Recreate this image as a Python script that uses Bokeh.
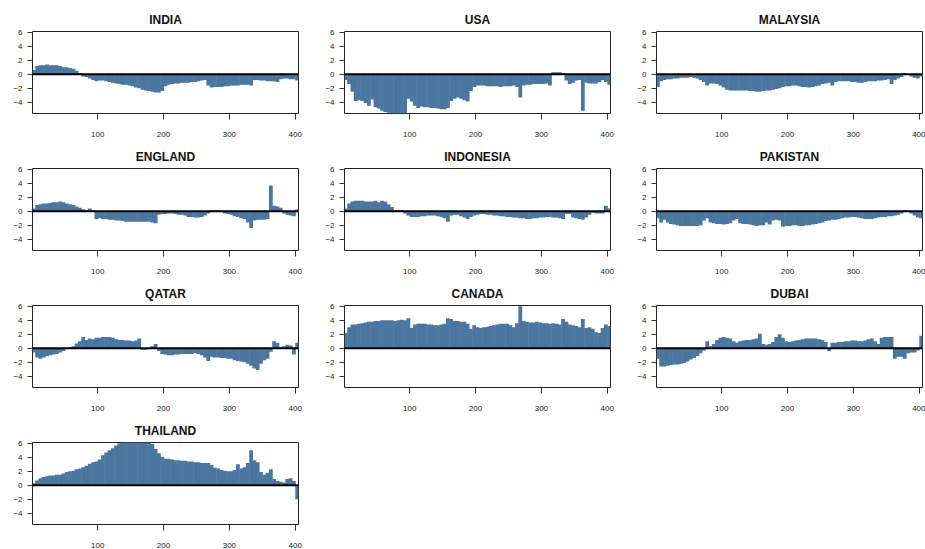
from bokeh.plotting import figure
from bokeh.layouts import gridplot
from bokeh.models import Range1d, FixedTicker, Span
from bokeh.embed import file_html
from bokeh.resources import INLINE

# index positions (one value read every 5 observations)
t = list(range(1, 402, 5))

names = ["INDIA", "USA", "MALAYSIA", "ENGLAND", "INDONESIA", "PAKISTAN",
         "QATAR", "CANADA", "DUBAI", "THAILAND"]

x_ticks = [100, 200, 300, 400]
y_ticks = [-4, -2, 0, 2, 4, 6]

india = [0.6, 1.2, 1.3, 1.3, 1.4, 1.3, 1.3, 1.3, 1.2, 1.0,
         1.0, 0.9, 0.8, 0.5, 0.2, -0.3, -0.4, -0.6, -0.8, -1.0,
         -0.9, -0.9, -1.0, -1.1, -1.2, -1.3, -1.4, -1.5, -1.5, -1.6,
         -1.7, -1.9, -2.0, -2.2, -2.3, -2.4, -2.5, -2.6, -2.6, -2.4,
         -1.7, -1.5, -1.4, -1.3, -1.3, -1.2, -1.2, -1.2, -1.1, -1.1,
         -1.0, -0.9, -0.8, -1.6, -1.9, -1.8, -1.8, -1.8, -1.7, -1.7,
         -1.6, -1.6, -1.6, -1.5, -1.5, -1.5, -1.6, -0.8, -0.8, -0.9,
         -0.9, -1.0, -1.0, -1.0, -1.1, -0.7, -0.6, -0.6, -0.7, -0.7,
         -0.9]

usa = [-0.8, -1.4, -2.5, -3.8, -3.7, -3.8, -4.1, -4.5, -3.6, -4.7,
       -4.9, -5.2, -5.4, -5.5, -5.6, -5.6, -5.6, -5.6, -5.6, -3.5,
       -3.9, -4.5, -4.8, -4.6, -4.7, -4.7, -4.8, -4.8, -4.9, -5.0,
       -5.0, -4.8, -3.8, -3.5, -3.3, -3.5, -3.7, -3.9, -2.4, -1.8,
       -1.6, -1.6, -1.6, -1.7, -1.7, -1.7, -1.7, -1.8, -1.7, -1.7,
       -1.7, -1.6, -1.8, -3.3, -1.6, -1.5, -1.5, -1.4, -1.4, -1.4,
       -1.4, -1.3, -1.6, 0.3, 0.3, 0.3, 0.2, -0.9, -1.4, -1.2,
       -0.9, -0.8, -5.2, -1.2, -1.3, -1.3, -1.3, -1.1, -0.8, -1.1,
       -1.5]

malaysia = [-1.8, -1.0, -0.8, -0.7, -0.7, -0.6, -0.6, -0.5, -0.5, -0.5,
            -0.4, -0.5, -0.6, -0.8, -1.1, -1.6, -1.3, -1.3, -1.4, -1.6,
            -1.9, -2.2, -2.3, -2.3, -2.3, -2.3, -2.3, -2.3, -2.4, -2.4,
            -2.5, -2.5, -2.4, -2.3, -2.3, -2.2, -2.1, -2.0, -1.8, -1.7,
            -1.7, -1.6, -1.6, -1.7, -1.8, -1.8, -1.9, -1.8, -1.7, -1.6,
            -1.4, -1.3, -1.2, -1.6, -1.1, -1.0, -1.0, -1.0, -1.0, -1.1,
            -1.1, -1.2, -1.2, -1.1, -1.0, -1.0, -1.0, -0.9, -0.9, -0.8,
            -0.7, -1.4, -0.8, -0.6, -0.4, 0.2, 0.0, -0.3, -0.5, -0.6,
            -0.3]

england = [0.4, 0.9, 1.0, 1.1, 1.1, 1.2, 1.3, 1.3, 1.4, 1.3,
           1.1, 1.0, 0.9, 0.7, 0.5, 0.3, 0.2, 0.4, 0.2, -1.1,
           -1.0, -1.1, -1.1, -1.2, -1.2, -1.3, -1.3, -1.4, -1.5, -1.5,
           -1.5, -1.5, -1.5, -1.5, -1.5, -1.5, -1.6, -1.7, -0.5, -0.4,
           -0.4, -0.3, -0.3, -0.4, -0.5, -0.5, -0.6, -0.8, -0.8, -0.9,
           -0.9, -0.8, -0.6, -0.3, 0.1, 0.1, 0.1, -0.1, -0.3, -0.4,
           -0.5, -0.7, -0.8, -1.0, -1.1, -1.6, -2.4, -1.3, -1.2, -1.2,
           -1.2, -1.1, 3.7, 0.8, 0.7, 0.5, -0.3, -0.5, -0.6, -0.7,
           0.3]

indonesia = [0.4, 1.1, 1.4, 1.5, 1.5, 1.5, 1.4, 1.4, 1.4, 1.5,
             1.3, 1.5, 1.4, 1.0, 0.6, 0.2, 0.1, 0.2, -0.3, -0.6,
             -0.8, -0.8, -0.8, -0.7, -0.7, -0.6, -0.6, -0.6, -0.7, -0.8,
             -1.0, -1.5, -0.6, -0.5, -0.5, -0.7, -0.9, -1.1, -0.8, -0.6,
             -0.5, -0.4, -0.4, -0.5, -0.5, -0.6, -0.6, -0.7, -0.7, -0.8,
             -0.8, -0.9, -0.9, -1.0, -1.0, -1.1, -1.1, -1.0, -1.0, -0.9,
             -0.9, -0.8, -0.8, -0.9, -0.9, -1.0, -1.1, -0.4, -0.4, -0.9,
             -1.0, -1.1, -1.2, -0.9, -0.5, -0.2, -0.3, -0.3, -0.3, 0.8,
             0.4]

pakistan = [-1.0, -1.6, -1.2, -1.6, -1.8, -1.9, -2.0, -2.1, -2.1, -2.1,
            -2.1, -2.1, -2.1, -2.0, -1.3, -1.0, -1.6, -1.7, -1.8, -1.8,
            -1.9, -1.8, -1.7, -1.3, -1.1, -1.7, -1.8, -1.8, -1.9, -2.0,
            -2.1, -2.0, -2.0, -1.6, -1.9, -1.3, -1.2, -1.3, -2.2, -2.1,
            -2.1, -2.0, -2.0, -2.1, -2.1, -2.0, -2.0, -1.9, -1.8, -1.7,
            -1.6, -1.4, -1.3, -1.2, -1.2, -1.1, -1.0, -0.9, -0.9, -0.8,
            -0.8, -0.9, -1.0, -1.1, -1.1, -1.1, -1.0, -0.9, -0.8, -0.8,
            -0.7, -0.7, -0.6, -0.5, -0.3, 0.1, -0.1, -0.3, -0.6, -0.9,
            -1.0]

qatar = [-0.6, -1.3, -1.5, -1.3, -1.1, -1.0, -0.9, -0.8, -0.6, -0.4,
         -0.1, 0.2, 0.3, 0.7, 1.0, 1.6, 1.2, 1.4, 1.3, 1.5,
         1.5, 1.6, 1.6, 1.6, 1.5, 1.3, 1.2, 1.2, 1.1, 1.1,
         1.0, 1.1, 1.4, -0.2, -0.2, -0.1, 0.3, 0.6, -0.4, -0.8,
         -0.9, -1.0, -1.0, -0.9, -0.9, -0.8, -0.8, -0.8, -0.8, -0.7,
         -0.8, -1.0, -1.3, -1.8, -1.2, -1.3, -1.3, -1.4, -1.4, -1.5,
         -1.5, -1.7, -1.8, -1.9, -2.0, -2.2, -2.5, -2.9, -3.1, -2.2,
         -1.7, -1.5, -0.5, 1.0, 0.8, 0.2, 0.3, 0.5, 0.4, -0.9,
         0.8]

canada = [2.2, 3.0, 3.4, 3.4, 3.5, 3.6, 3.7, 3.8, 3.8, 3.9,
          3.9, 4.0, 4.0, 4.0, 4.0, 3.9, 4.0, 4.1, 4.0, 4.3,
          2.9, 3.4, 3.5, 3.5, 3.5, 3.4, 3.4, 3.3, 3.3, 3.4,
          3.5, 4.3, 4.2, 3.9, 3.9, 3.8, 3.8, 3.5, 2.8, 3.3,
          3.0, 2.9, 3.0, 3.1, 3.2, 3.3, 3.4, 3.5, 3.5, 3.5,
          3.3, 3.0, 3.6, 6.0, 3.9, 3.8, 3.7, 3.7, 3.8, 3.7,
          3.6, 3.6, 3.5, 3.6, 3.5, 3.4, 4.2, 3.8, 3.4, 3.3,
          3.2, 3.0, 4.2, 2.9, 3.0, 2.8, 2.3, 2.2, 2.9, 3.4,
          3.2]

dubai = [-1.5, -2.6, -2.6, -2.5, -2.4, -2.3, -2.3, -2.2, -2.1, -1.9,
         -1.6, -1.4, -1.1, -0.7, -0.3, 1.0, 0.3, 0.6, 1.2, 1.5,
         1.6, 1.5, 1.4, 1.0, 0.8, 1.0, 1.1, 1.2, 1.2, 1.3,
         1.4, 2.1, 0.6, 0.5, 0.6, 0.9, 1.6, 2.0, 1.5, 1.0,
         0.9, 1.0, 1.1, 1.2, 1.3, 1.4, 1.4, 1.4, 1.4, 1.3,
         1.2, 0.9, -0.4, 0.8, 0.8, 0.9, 0.9, 1.0, 1.0, 1.1,
         1.1, 1.0, 1.0, 1.1, 1.3, 1.4, 1.0, 0.6, 1.5, 1.6,
         1.6, 1.6, -1.5, -1.2, -1.2, -1.5, -0.7, -0.6, -0.6, -0.3,
         1.8]

thailand = [0.3, 0.7, 1.0, 1.2, 1.3, 1.4, 1.4, 1.5, 1.5, 1.7,
            1.9, 2.0, 2.1, 2.3, 2.4, 2.6, 2.8, 3.1, 3.3, 3.4,
            3.7, 4.3, 4.7, 5.0, 5.3, 5.7, 6.0, 6.3, 6.5, 6.6,
            6.7, 6.7, 6.7, 6.6, 6.5, 6.3, 5.9, 5.2, 4.6, 4.1,
            3.8, 3.8, 3.7, 3.6, 3.6, 3.5, 3.5, 3.4, 3.4, 3.3,
            3.3, 3.2, 3.2, 3.2, 2.9, 2.5, 2.4, 2.2, 2.1, 2.0,
            2.0, 2.2, 3.0, 2.4, 2.6, 3.2, 5.0, 3.6, 3.3, 1.9,
            1.5, 1.8, 2.3, 0.9, 0.6, 0.5, 0.4, 0.9, 1.0, 0.6,
            -2.0]

series = [india, usa, malaysia, england, indonesia, pakistan,
          qatar, canada, dubai, thailand]

BAR = "#4a76a0"
FONT = "Liberation Sans"
FRAME_H = 82
STEP = t[1] - t[0]


def panel(name, vals, width, right, height, top):
    p = figure(width=width, height=height, x_range=Range1d(1, 405),
               y_range=Range1d(-5.6, 6.12), output_backend="svg",
               toolbar_location=None, title=name,
               min_border_left=32, min_border_right=right,
               min_border_top=top, min_border_bottom=height - top - FRAME_H)
    p.title.align = "center"
    p.title.text_font = FONT
    p.title.text_font_size = "12px"
    p.title.text_font_style = "bold"
    p.title.text_color = "#111111"
    p.title.standoff = 9
    p.vbar(x=[ti + (STEP - 1) / 2 for ti in t], width=STEP + 0.8, top=vals,
           bottom=0, fill_color=BAR, line_color=None)
    p.add_layout(Span(location=0, dimension="width", line_color="black",
                      line_width=2))
    p.xgrid.grid_line_color = None
    p.ygrid.grid_line_color = None
    p.outline_line_color = "#222222"
    p.outline_line_width = 1
    p.background_fill_color = "white"
    p.border_fill_color = "white"
    p.xaxis.ticker = FixedTicker(ticks=x_ticks)
    p.yaxis.ticker = FixedTicker(ticks=y_ticks)
    for ax in (p.xaxis, p.yaxis):
        ax.axis_line_color = None
        ax.minor_tick_line_color = None
        ax.major_tick_in = 0
        ax.major_tick_line_color = "#333333"
        ax.major_label_text_font = FONT
        ax.major_label_text_font_size = "8px"
        ax.major_label_text_color = "#222222"
    p.xaxis.major_tick_out = 6
    p.xaxis.major_label_standoff = 12
    p.yaxis.major_tick_out = 5
    p.yaxis.major_label_standoff = 5
    return p


rows = []
for r in range(4):
    height = 139 if r == 0 else 137
    top = 31 if r == 0 else 29
    row = []
    for c in range(3):
        i = r * 3 + c
        if i >= len(names):
            row.append(None)
            continue
        width = 301 if c == 2 else 312
        right = 3 if c == 2 else 14
        row.append(panel(names[i], series[i], width, right, height, top))
    rows.append(row)

grid = gridplot(rows, toolbar_location=None)

open("out.html", "w").write(file_html(grid, INLINE))
